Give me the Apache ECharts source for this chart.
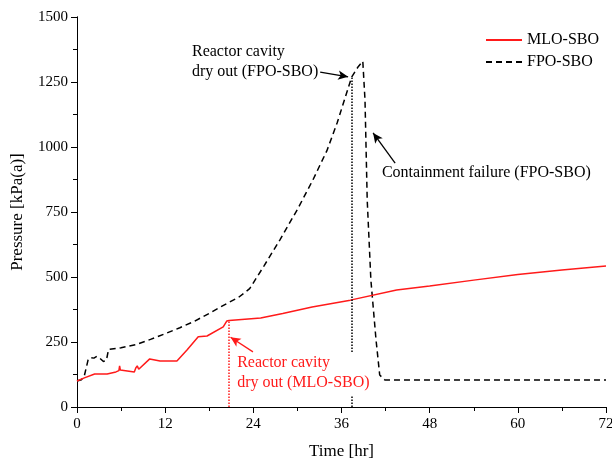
<!DOCTYPE html>
<html>
<head>
<meta charset="utf-8">
<script src="https://cdn.jsdelivr.net/npm/echarts@6/dist/echarts.min.js"></script>
<style>
  html, body { margin: 0; padding: 0; background: #fff; }
  #chart { width: 612px; height: 464px; }
</style>
</head>
<body>
<div id="chart"></div>
<script>
// MLO-SBO containment pressure
const mloTime = [0, 1, 2.4, 4.1, 5.3, 5.7, 5.8, 5.9, 7.8, 8.0, 8.2, 8.4, 9.9, 11.3, 13.6, 15, 16.5, 17.7, 19.9, 20.4, 20.7, 25, 28, 32, 37.2, 43.5, 48, 54, 60, 66, 72]
const mloPressure = [100, 112, 127, 127, 135, 140, 158, 142, 135, 150, 158, 145, 185, 177, 177, 220, 270, 273, 308, 331, 333, 342, 360, 385, 411, 450, 465, 488, 510, 527, 542]

// FPO-SBO containment pressure
const fpoTime = [0, 0.6, 1.0, 1.5, 1.8, 2.3, 2.7, 3.1, 3.6, 4.0, 4.3, 6, 8, 10, 12, 14, 16, 18, 20, 22, 23.5, 25.5, 27.6, 30, 32.1, 34, 35.4, 36.5, 37.4, 38.3, 38.9, 39.2, 39.5, 40.0, 40.7, 41.2, 41.9, 72]
const fpoPressure = [100, 105, 120, 180, 190, 188, 195, 188, 175, 180, 222, 228, 240, 260, 282, 305, 330, 360, 392, 422, 455, 545, 642, 760, 873, 985, 1092, 1190, 1270, 1310, 1330, 1180, 796, 488, 258, 123, 104, 104]

// events
const mloDryOut = 20.7
const fpoDryOut = 37.4

const font = '"Liberation Serif", "Times New Roman", serif'
const chart = echarts.init(document.getElementById('chart'))
const zip = (t, v) => t.map((x, i) => [x, v[i]])

const baseAxisLine = { show: true, lineStyle: { color: '#000', width: 1 } }

chart.setOption({
  animation: false,
  grid: { left: 77, right: 6, top: 17, bottom: 57, outerBoundsMode: 'none', containLabel: false },
  legend: {
    left: 480,
    top: 27,
    orient: 'vertical',
    itemWidth: 36,
    itemHeight: 10,
    itemGap: 6,
    itemStyle: { opacity: 0 },
    textStyle: { fontFamily: font, fontSize: 16, color: '#000' },
    data: ['MLO-SBO', 'FPO-SBO']
  },
  xAxis: [
    {
      type: 'value', min: 0, max: 72, interval: 12,
      name: 'Time [hr]', nameLocation: 'middle', nameGap: 36,
      nameTextStyle: { fontFamily: font, fontSize: 17, color: '#000' },
      axisLine: baseAxisLine,
      axisTick: { show: true, inside: false, length: 6, lineStyle: { color: '#000' } },
      minorTick: { show: true, splitNumber: 2, length: 3, lineStyle: { color: '#000' } },
      axisLabel: { fontFamily: font, fontSize: 15, color: '#000', margin: 10, formatter: v => String(v) },
      splitLine: { show: false }
    },
    {
      type: 'value', min: 0, max: 72, interval: 6, position: 'top',
      axisLine: baseAxisLine,
      axisTick: { show: true, inside: true, length: 4, lineStyle: { color: '#000' } },
      axisLabel: { show: false },
      splitLine: { show: false }
    }
  ],
  yAxis: [
    {
      type: 'value', min: 0, max: 1500, interval: 250,
      name: 'Pressure [kPa(a)]', nameLocation: 'middle', nameGap: 51,
      nameTextStyle: { fontFamily: font, fontSize: 17, color: '#000' },
      axisLine: baseAxisLine,
      axisTick: { show: true, inside: false, length: 6, lineStyle: { color: '#000' } },
      minorTick: { show: true, splitNumber: 2, length: 3, lineStyle: { color: '#000' } },
      axisLabel: { fontFamily: font, fontSize: 15, color: '#000', margin: 9, formatter: v => String(v) },
      splitLine: { show: false }
    },
    {
      type: 'value', min: 0, max: 1500, interval: 125, position: 'right',
      axisLine: baseAxisLine,
      axisTick: { show: true, inside: true, length: 4, lineStyle: { color: '#000' } },
      axisLabel: { show: false },
      splitLine: { show: false }
    }
  ],
  series: [
    {
      name: 'MLO-SBO',
      type: 'line',
      showSymbol: false,
      symbol: 'none',
      data: zip(mloTime, mloPressure),
      lineStyle: { color: '#ff1a1a', width: 1.5 },
      itemStyle: { color: '#ff1a1a' },
      z: 3,
      markLine: {
        silent: true,
        symbol: ['none', 'none'],
        label: { show: false },
        data: [
          [{ coord: [mloDryOut, 0], lineStyle: { color: '#ff1a1a', width: 1.5, type: [1.5, 1.5] } },
           { coord: [mloDryOut, 333] }],
          [{ coord: [23.95, 212], symbol: 'none', lineStyle: { color: '#ff1a1a', width: 1.3, type: 'solid' } },
           { coord: [20.9, 268], symbol: 'arrow', symbolSize: [7, 10] }]
        ]
      }
    },
    {
      name: 'FPO-SBO',
      type: 'line',
      showSymbol: false,
      symbol: 'none',
      data: zip(fpoTime, fpoPressure),
      lineStyle: { color: '#000', width: 1.5, type: [6, 4] },
      itemStyle: { color: '#000' },
      z: 2,
      markLine: {
        silent: true,
        symbol: ['none', 'none'],
        label: { show: false },
        data: [
          [{ coord: [fpoDryOut, 0], lineStyle: { color: '#000', width: 1.5, type: [1.5, 1.5] } },
           { coord: [fpoDryOut, 40] }],
          [{ coord: [fpoDryOut, 212], lineStyle: { color: '#000', width: 1.5, type: [1.5, 1.5] } },
           { coord: [fpoDryOut, 1268] }],
          [{ coord: [33.1, 1288], symbol: 'none', lineStyle: { color: '#000', width: 1.3, type: 'solid' } },
           { coord: [36.9, 1270], symbol: 'arrow', symbolSize: [7, 10] }],
          [{ coord: [43.3, 938], symbol: 'none', lineStyle: { color: '#000', width: 1.3, type: 'solid' } },
           { coord: [40.3, 1054], symbol: 'arrow', symbolSize: [7, 10] }]
        ]
      }
    }
  ]
})

// annotation texts anchored in data space
const notes = [
  { at: [15.65, 1404], text: 'Reactor cavity\ndry out (FPO-SBO)', color: '#000', va: 'top' },
  { at: [41.5, 900], text: 'Containment failure (FPO-SBO)', color: '#000', va: 'middle' },
  { at: [21.8, 208], text: 'Reactor cavity\ndry out (MLO-SBO)', color: '#ff1a1a', va: 'top' }
]

chart.setOption({
  graphic: notes.map(n => {
    const p = chart.convertToPixel({ gridIndex: 0 }, n.at)
    return {
      type: 'text',
      x: p[0],
      y: p[1],
      z: 10,
      style: {
        text: n.text,
        fill: n.color,
        font: '16px ' + font,
        lineHeight: 20,
        align: 'left',
        verticalAlign: n.va
      }
    }
  })
})
</script>
</body>
</html>
